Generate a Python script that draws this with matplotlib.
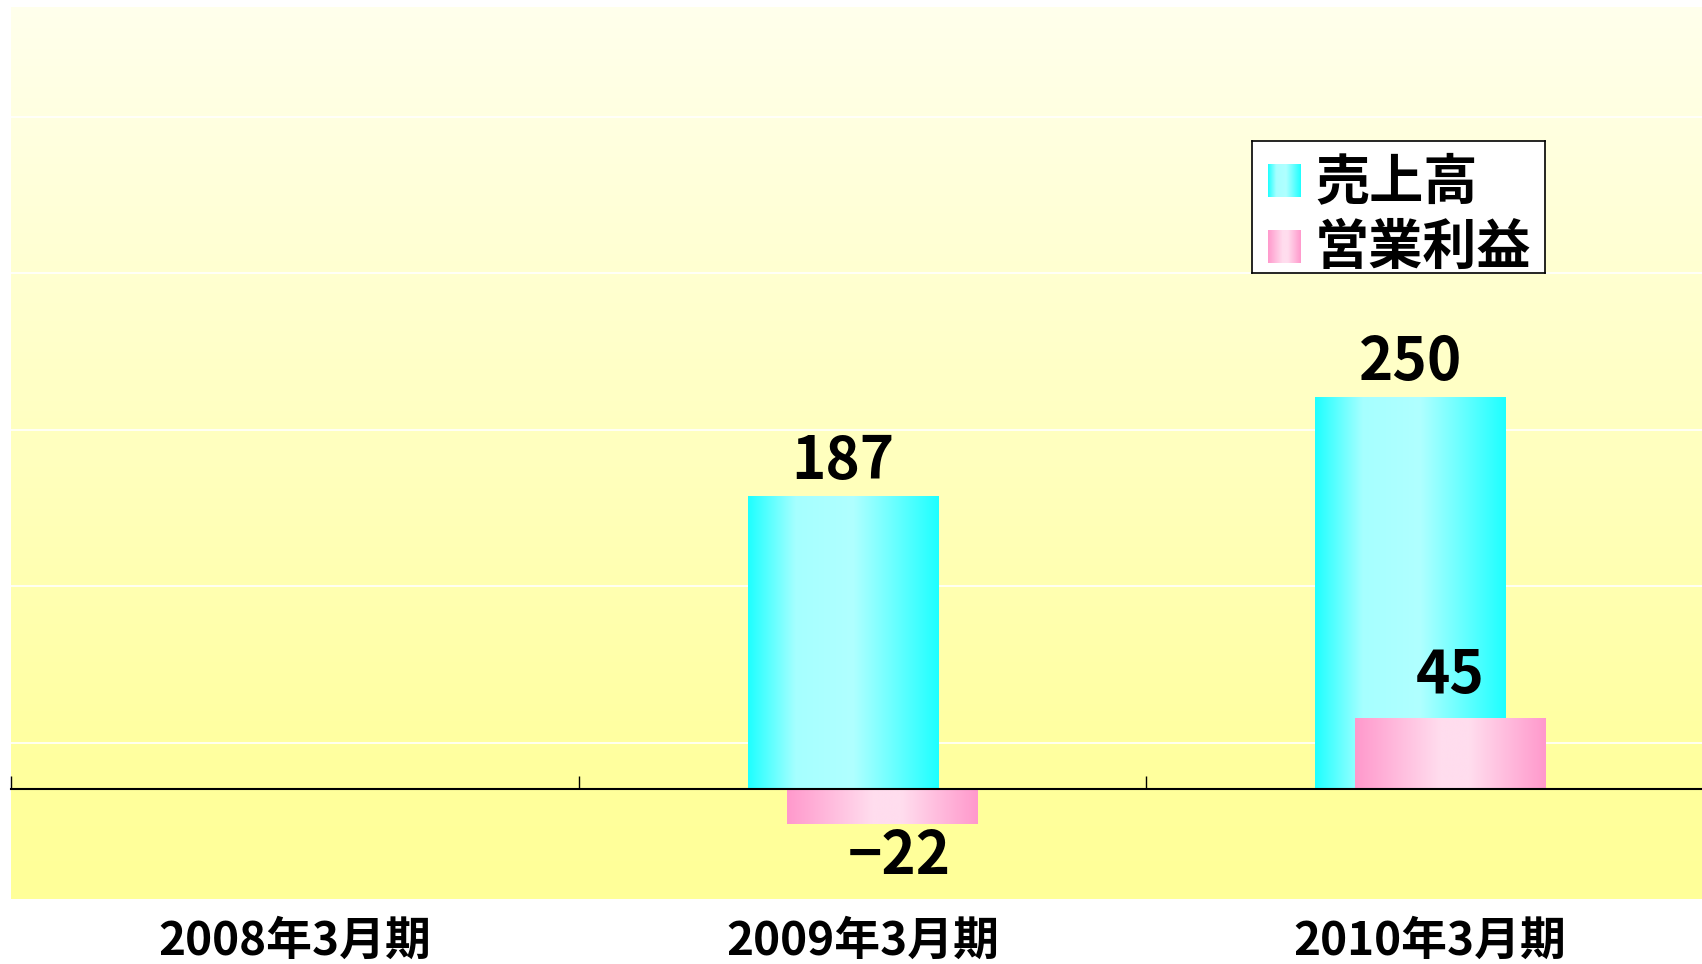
import numpy as np
import matplotlib
matplotlib.use('Agg')
import matplotlib.pyplot as plt
from matplotlib.colors import LinearSegmentedColormap

# data
categories = ['2008年3月期', '2009年3月期', '2010年3月期']
series_names = ['売上高', '営業利益']
sales = [np.nan, 187, 250]
profit = [np.nan, -22, 45]

plt.rcParams['font.family'] = ['Noto Sans CJK JP', 'DejaVu Sans']
plt.rcParams['font.weight'] = 'bold'

cyan_cmap = LinearSegmentedColormap.from_list(
    'cy', [(0, '#1EFFFF'), (0.25, '#A6FFFF'), (0.55, '#B0FFFF'), (1, '#1EFFFF')])
pink_cmap = LinearSegmentedColormap.from_list(
    'pk', [(0, '#FF99CC'), (0.45, '#FFDDEE'), (0.6, '#FFDDEE'), (1, '#FF99CC')])
bg_cmap = LinearSegmentedColormap.from_list(
    'bg', [(0, '#FFFF99'), (0.12, '#FFFF9C'), (1, '#FFFFEC')])

fig = plt.figure(figsize=(17.02, 9.64), dpi=100)
ax = fig.add_axes([11 / 1702, 65 / 964, 1691 / 1702, 892 / 964])

# background gradient
ax.imshow(np.linspace(0, 1, 256).reshape(-1, 1), cmap=bg_cmap, origin='lower',
          extent=[0, 1, 0, 1], transform=ax.transAxes, aspect='auto', zorder=0)

x = np.arange(len(categories))
w = 0.335
off = 0.035

bars_s = ax.bar(x - off, sales, w, color='none', zorder=2)
bars_p = ax.bar(x + off, profit, w, color='none', zorder=2)

grad = np.linspace(0, 1, 256).reshape(1, -1)


def fill(bars, cmap, z):
    for b in bars:
        h = b.get_height()
        if np.isnan(h):
            continue
        x0, y0 = b.get_xy()
        ax.imshow(grad, cmap=cmap, aspect='auto', zorder=z, interpolation='bilinear',
                  extent=[x0, x0 + b.get_width(), min(y0, y0 + h), max(y0, y0 + h)])


fill(bars_s, cyan_cmap, 2.1)
fill(bars_p, pink_cmap, 2.2)

for s in ['left', 'right', 'top']:
    ax.spines[s].set_visible(False)
ax.spines['bottom'].set_position(('data', 0))
ax.spines['bottom'].set_linewidth(1.5)

ax.set_xticks(x)
ax.set_xticks(np.arange(len(categories) + 1) - 0.5, minor=True)
ax.tick_params(axis='x', which='major', length=0, labelbottom=False)
ax.tick_params(axis='x', which='minor', direction='in', length=9.5, width=1)
ax.set_yticks(np.arange(30, 500, 100))
ax.tick_params(axis='y', length=0, labelleft=False)
ax.grid(axis='y', color='white', lw=1.2)
ax.set_axisbelow(True)

# limits after ticks (set_xticks would widen them); last category runs off the right edge
ax.set_xlim(-0.5, -0.5 + 1691 / 567.7)
ax.set_ylim(-70, 500)

# value labels
for xi, v in zip(x - off, sales):
    if not np.isnan(v):
        ax.annotate(f'{v}', (xi, v), xytext=(0, 13), textcoords='offset points',
                    ha='center', va='baseline', fontsize=42, fontweight='bold', zorder=4)
for xi, v in zip(x + off, profit):
    if np.isnan(v):
        continue
    if v >= 0:
        ax.annotate(f'{v}', (xi, v), xytext=(0, 19), textcoords='offset points',
                    ha='center', va='baseline', fontsize=42, fontweight='bold', zorder=4)
    else:
        ax.annotate(f'\u2212{abs(v)}', (xi, v), xytext=(12, -36), textcoords='offset points',
                    ha='center', va='baseline', fontsize=42, fontweight='bold', zorder=4)

# category labels
for xi, cat in zip(x, categories):
    ax.text(xi, -0.048, cat, transform=ax.get_xaxis_transform(), ha='center',
            va='center', fontsize=33, fontweight='bold')

# legend box drawn in its own small axes (pixel units inside the box)
lax = fig.add_axes([1252 / 1702, 1 - 273 / 964, 293 / 1702, 132 / 964], zorder=5)
lax.set_facecolor('white')
for s in lax.spines.values():
    s.set_linewidth(1.2)
    s.set_color('black')
for i, (name, cmap) in enumerate(zip(series_names, [cyan_cmap, pink_cmap])):
    yc = 39.5 + 66 * i
    lax.imshow(grad, cmap=cmap, aspect='auto', interpolation='bilinear',
               extent=[16, 49, yc - 16.5, yc + 16.5])
    lax.text(63, yc + 17.5, name, ha='left', va='baseline', fontsize=39, fontweight='bold')
lax.set_xlim(0, 293)
lax.set_ylim(132, 0)
lax.set_xticks([])
lax.set_yticks([])

fig.savefig('out.png', dpi=100)
